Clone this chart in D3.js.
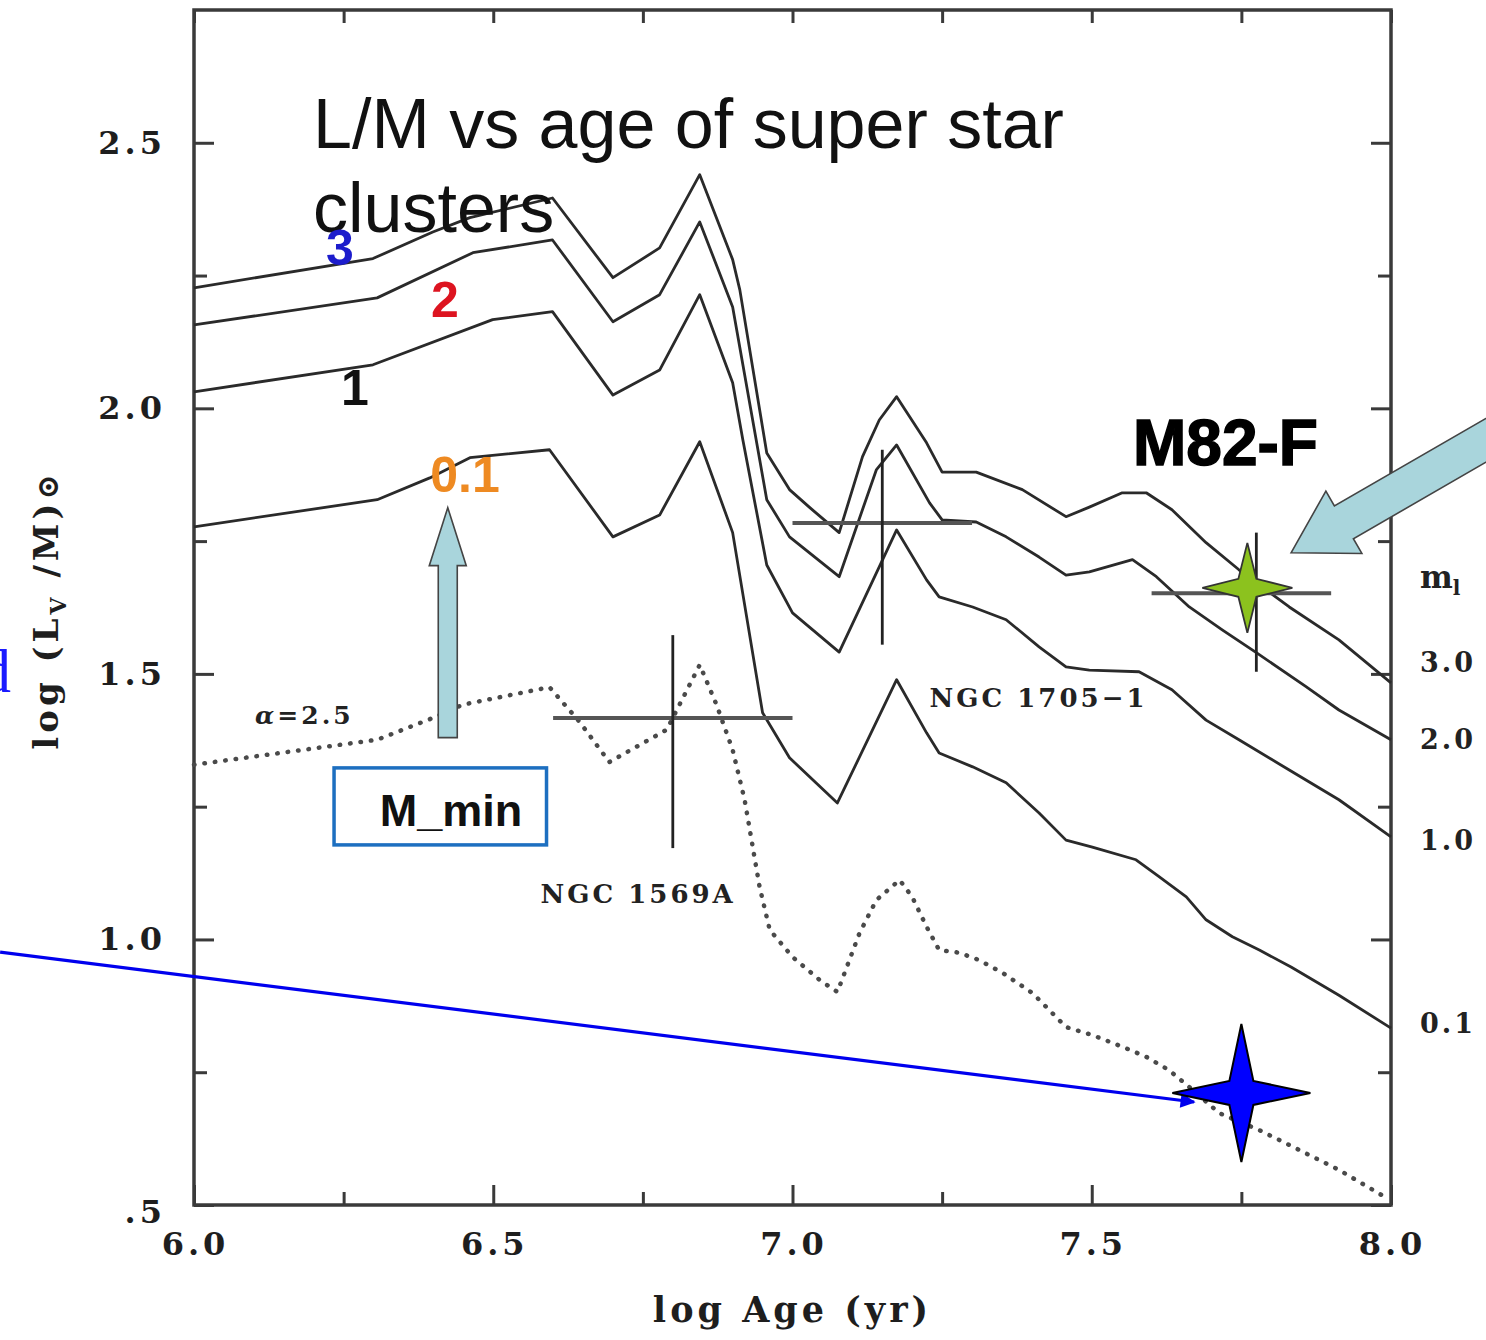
<!DOCTYPE html>
<html>
<head>
<meta charset="utf-8">
<script src="https://cdn.jsdelivr.net/npm/d3@7"></script>
<style>
  body { margin: 0; background: #fff; }
  svg { display: block; }
</style>
</head>
<body>
<svg id="chart" width="1486" height="1340"></svg>
<script>
// ---- axis ticks ----
const ageTicks = [6.0, 6.5, 7.0, 7.5, 8.0];
const ageMinor = [6.25, 6.75, 7.25, 7.75];
const lmTicks = [0.5, 1.0, 1.5, 2.0, 2.5];
const lmMinor = [0.75, 1.25, 1.75, 2.25];

// ---- model tracks: log(L_V/M) vs log age, for lower mass cut-off m_l ----
const age_m3 = [6.000, 6.299, 6.399, 6.461, 6.599, 6.700, 6.778, 6.845, 6.900, 6.912, 6.957, 6.995, 7.028, 7.078, 7.117, 7.145, 7.174, 7.224, 7.250, 7.307, 7.384, 7.457, 7.496, 7.551, 7.591, 7.634, 7.691, 7.746, 7.830, 7.913, 8.000];
const lm_m3  = [2.227, 2.282, 2.332, 2.359, 2.396, 2.246, 2.302, 2.440, 2.280, 2.223, 1.916, 1.847, 1.814, 1.766, 1.909, 1.978, 2.022, 1.935, 1.880, 1.880, 1.847, 1.796, 1.814, 1.841, 1.841, 1.809, 1.747, 1.696, 1.626, 1.564, 1.483];

const age_m2 = [6.000, 6.306, 6.466, 6.599, 6.700, 6.778, 6.845, 6.900, 6.957, 6.995, 7.078, 7.140, 7.174, 7.229, 7.250, 7.307, 7.357, 7.412, 7.457, 7.496, 7.568, 7.608, 7.663, 7.718, 7.775, 7.858, 7.913, 8.000];
const lm_m2  = [2.157, 2.208, 2.293, 2.317, 2.163, 2.214, 2.351, 2.191, 1.828, 1.758, 1.683, 1.884, 1.931, 1.822, 1.790, 1.786, 1.758, 1.720, 1.686, 1.692, 1.715, 1.683, 1.626, 1.583, 1.540, 1.476, 1.432, 1.376];

const age_m1 = [6.000, 6.299, 6.499, 6.599, 6.700, 6.778, 6.845, 6.900, 6.917, 6.957, 7.000, 7.078, 7.174, 7.224, 7.245, 7.301, 7.357, 7.412, 7.457, 7.496, 7.579, 7.634, 7.691, 7.746, 7.830, 7.913, 8.000];
const lm_m1  = [2.031, 2.082, 2.167, 2.182, 2.025, 2.072, 2.214, 2.048, 1.941, 1.705, 1.615, 1.541, 1.771, 1.677, 1.645, 1.626, 1.602, 1.551, 1.513, 1.507, 1.504, 1.470, 1.413, 1.376, 1.319, 1.263, 1.193];

const age_m01 = [6.000, 6.306, 6.394, 6.461, 6.594, 6.700, 6.778, 6.845, 6.900, 6.950, 6.995, 7.075, 7.174, 7.224, 7.245, 7.301, 7.357, 7.412, 7.457, 7.501, 7.574, 7.613, 7.658, 7.691, 7.735, 7.780, 7.833, 7.913, 8.000];
const lm_m01  = [1.777, 1.828, 1.869, 1.907, 1.922, 1.758, 1.799, 1.937, 1.766, 1.427, 1.342, 1.257, 1.489, 1.389, 1.351, 1.325, 1.295, 1.238, 1.187, 1.174, 1.150, 1.118, 1.080, 1.037, 1.005, 0.980, 0.948, 0.895, 0.833];

// steeper IMF (alpha = 2.5), dotted
const age_a25 = [6.000, 6.306, 6.399, 6.449, 6.594, 6.644, 6.694, 6.790, 6.845, 6.873, 6.900, 6.920, 6.945, 6.962, 7.000, 7.045, 7.075, 7.095, 7.112, 7.140, 7.179, 7.200, 7.224, 7.245, 7.279, 7.312, 7.351, 7.401, 7.429, 7.457, 7.501, 7.551, 7.591, 7.629, 7.663, 7.713, 7.780, 7.846, 7.913, 7.990];
const lm_a25  = [1.329, 1.376, 1.417, 1.442, 1.475, 1.410, 1.334, 1.395, 1.517, 1.442, 1.357, 1.263, 1.099, 1.018, 0.967, 0.924, 0.901, 0.961, 1.012, 1.074, 1.112, 1.080, 1.024, 0.980, 0.975, 0.961, 0.937, 0.899, 0.867, 0.835, 0.820, 0.798, 0.779, 0.754, 0.722, 0.673, 0.641, 0.604, 0.566, 0.515];

// ---- observed clusters with error ranges ----
const clusterNames = ["NGC 1569A", "NGC 1705\u22121", "M82-F"];
const clusterAge   = [6.80, 7.15, 7.775];
const clusterAgeLo = [6.60, 7.00, 7.60];
const clusterAgeHi = [7.00, 7.30, 7.90];
const clusterLM    = [1.417, 1.784, 1.652];
const clusterLMLo  = [1.172, 1.555, 1.504];
const clusterLMHi  = [1.573, 1.922, 1.766];

// ---- track labels on the right edge ----
const massLabels = ["3.0", "2.0", "1.0", "0.1"];
const massLabelLM = [1.523, 1.378, 1.187, 0.843];

const svg = d3.select("#chart");
const x = d3.scaleLinear().domain([6, 8]).range([194, 1391]);
const y = d3.scaleLinear().domain([0.5, 2.75]).range([1205, 10]);

const serif = "'DejaVu Serif', serif";
const sans = "'Liberation Sans', Arial, sans-serif";
const ink = "#2a2a2a";
const axisInk = "#3a3a3a";

function styleTicks(g, w) {
  g.select(".domain").remove();
  g.selectAll("line").attr("stroke", axisInk).attr("stroke-width", w);
}
function styleLabels(g) {
  g.selectAll("text")
    .attr("font-family", serif).attr("font-weight", "bold")
    .attr("font-size", 32).attr("letter-spacing", 4)
    .attr("fill", "#1e1e1e");
}

// bottom axis
const gB = svg.append("g").attr("transform", `translate(0,${y(0.5)})`)
  .call(d3.axisBottom(x).tickValues(ageTicks).tickSize(-20).tickPadding(27).tickFormat(d3.format(".1f")));
styleTicks(gB, 3); styleLabels(gB);
gB.selectAll("text").attr("dx", 1);
const gBm = svg.append("g").attr("transform", `translate(0,${y(0.5)})`)
  .call(d3.axisBottom(x).tickValues(ageMinor).tickSize(-13).tickFormat(""));
styleTicks(gBm, 3);

// top axis (ticks only)
const gT = svg.append("g").attr("transform", `translate(0,${y(2.75)})`)
  .call(d3.axisTop(x).tickValues(ageTicks.concat(ageMinor)).tickSize(-13).tickFormat(""));
styleTicks(gT, 3);

// left axis
const gL = svg.append("g").attr("transform", `translate(${x(6)},0)`)
  .call(d3.axisLeft(y).tickValues(lmTicks).tickSize(-20).tickPadding(28)
    .tickFormat(d => d === 0.5 ? ".5" : d3.format(".1f")(d)));
styleTicks(gL, 3); styleLabels(gL);
gL.selectAll("text").filter(d => d === 0.5).attr("dy", "0.55em");
const gLm = svg.append("g").attr("transform", `translate(${x(6)},0)`)
  .call(d3.axisLeft(y).tickValues(lmMinor).tickSize(-13).tickFormat(""));
styleTicks(gLm, 3);

// right axis (ticks only)
const gR = svg.append("g").attr("transform", `translate(${x(8)},0)`)
  .call(d3.axisRight(y).tickValues(lmTicks).tickSize(-20).tickFormat(""));
styleTicks(gR, 3);
const gRm = svg.append("g").attr("transform", `translate(${x(8)},0)`)
  .call(d3.axisRight(y).tickValues(lmMinor).tickSize(-13).tickFormat(""));
styleTicks(gRm, 3);

// frame
svg.append("rect")
  .attr("x", x(6)).attr("y", y(2.75))
  .attr("width", x(8) - x(6)).attr("height", y(0.5) - y(2.75))
  .attr("fill", "none").attr("stroke", axisInk).attr("stroke-width", 3.5);

// axis titles
svg.append("text")
  .attr("x", x(7)).attr("y", 1322).attr("text-anchor", "middle")
  .attr("font-family", serif).attr("font-weight", "bold").attr("font-size", 35)
  .attr("letter-spacing", 4).attr("fill", "#1e1e1e")
  .text("log Age (yr)");

const yTitle = svg.append("text")
  .attr("transform", "translate(58,610) rotate(-90)")
  .attr("text-anchor", "middle")
  .attr("font-family", serif).attr("font-weight", "bold").attr("font-size", 34)
  .attr("letter-spacing", 4).attr("fill", "#1e1e1e");
yTitle.append("tspan").text("log (L");
yTitle.append("tspan").attr("font-size", 22).attr("dy", 8).text("V");
yTitle.append("tspan").attr("dy", -8).text(" /M)");
yTitle.append("tspan").attr("font-size", 30).text("\u2299");

// model tracks
const line = d3.line().x(d => x(d[0])).y(d => y(d[1]));
const solidTracks = [[age_m3, lm_m3], [age_m2, lm_m2], [age_m1, lm_m1], [age_m01, lm_m01]];
svg.append("g").selectAll("path").data(solidTracks).join("path")
  .attr("d", d => line(d3.zip(d[0], d[1])))
  .attr("fill", "none").attr("stroke", ink).attr("stroke-width", 2.8)
  .attr("stroke-linejoin", "round");

svg.append("path")
  .attr("d", line(d3.zip(age_a25, lm_a25)))
  .attr("fill", "none").attr("stroke", "#4a4a4a").attr("stroke-width", 4.5)
  .attr("stroke-linecap", "round").attr("stroke-dasharray", "0.5 10");

// cluster error crosses
const crosses = svg.append("g");
clusterNames.forEach((n, i) => {
  crosses.append("line")
    .attr("x1", x(clusterAgeLo[i])).attr("x2", x(clusterAgeHi[i]))
    .attr("y1", y(clusterLM[i])).attr("y2", y(clusterLM[i]))
    .attr("stroke", "#555").attr("stroke-width", 4);
  crosses.append("line")
    .attr("x1", x(clusterAge[i])).attr("x2", x(clusterAge[i]))
    .attr("y1", y(clusterLMLo[i])).attr("y2", y(clusterLMHi[i]))
    .attr("stroke", "#222").attr("stroke-width", 2.8);
});

// small plot labels
function plotLabel(txt, px, py, size, anchor) {
  return svg.append("text").attr("x", px).attr("y", py)
    .attr("text-anchor", anchor || "start")
    .attr("font-family", serif).attr("font-weight", "bold").attr("font-size", size)
    .attr("letter-spacing", 3).attr("fill", "#222").text(txt);
}
plotLabel(clusterNames[0], x(6.579), y(1.069), 26);
plotLabel(clusterNames[1], x(7.229), y(1.438), 26);
const alphaLbl = plotLabel("", x(6.102), y(1.405), 25);
alphaLbl.append("tspan").attr("font-style", "italic").text("\u03b1");
alphaLbl.append("tspan").text("=2.5");

// right-edge track labels
const ml = svg.append("text").attr("x", 1420).attr("y", y(1.681) + 10)
  .attr("font-family", serif).attr("font-weight", "bold").attr("font-size", 31).attr("fill", "#222");
ml.append("tspan").text("m");
ml.append("tspan").attr("font-size", 20).attr("dy", 7).text("l");
svg.append("g").selectAll("text").data(massLabels).join("text")
  .attr("x", 1420).attr("y", (d, i) => y(massLabelLM[i]) + 10)
  .attr("font-family", serif).attr("font-weight", "bold").attr("font-size", 27)
  .attr("letter-spacing", 3).attr("fill", "#222")
  .text(d => d);

// title
const title = svg.append("text").attr("font-family", sans).attr("font-size", 70).attr("fill", "#111");
title.append("tspan").attr("x", 313).attr("y", 148).text("L/M vs age of super star");
title.append("tspan").attr("x", 313).attr("y", 232).text("clusters");

// coloured track numbers
const numLbl = [["3", "#1c1ccc", 340, 265], ["2", "#dd1420", 445, 317], ["1", "#111", 355, 405], ["0.1", "#ee8a22", 465, 492]];
svg.append("g").selectAll("text").data(numLbl).join("text")
  .attr("x", d => d[2]).attr("y", d => d[3]).attr("text-anchor", "middle")
  .attr("font-family", sans).attr("font-weight", "bold").attr("font-size", 50)
  .attr("fill", d => d[1]).text(d => d[0]);

// M_min arrow and box
const arrowFill = "#a9d5dc";
const upTip = [x(6.424), y(1.813)];
svg.append("polygon")
  .attr("transform", `translate(${upTip[0]},${upTip[1]})`)
  .attr("points", [[0, 0], [-18.5, 58], [-9.5, 58], [-9.5, 230], [9.5, 230], [9.5, 58], [18.5, 58]].join(" "))
  .attr("fill", arrowFill).attr("stroke", "#444").attr("stroke-width", 1.6);
svg.append("rect")
  .attr("x", x(6.234)).attr("y", y(1.323))
  .attr("width", x(6.589) - x(6.234)).attr("height", y(1.178) - y(1.323))
  .attr("fill", "#fff").attr("stroke", "#1d6fc0").attr("stroke-width", 3.5);
svg.append("text").attr("x", 451).attr("y", 826)
  .attr("text-anchor", "middle").attr("font-family", sans).attr("font-weight", "bold")
  .attr("font-size", 45).attr("fill", "#111").text("M_min");

// M82-F label and arrow
svg.append("text").attr("x", 1133).attr("y", 465)
  .attr("font-family", sans).attr("font-weight", "bold").attr("font-size", 64)
  .attr("stroke", "#000").attr("stroke-width", 1.5).attr("fill", "#000").text("M82-F");
const bigTip = [x(7.833), y(1.728)];
svg.append("polygon")
  .attr("transform", `translate(${bigTip[0]},${bigTip[1]}) rotate(-30)`)
  .attr("points", [[0, 0], [61, -36], [61, -19], [330, -19], [330, 19], [61, 19], [61, 36]].join(" "))
  .attr("fill", arrowFill).attr("stroke", "#444").attr("stroke-width", 1.6);

// four-pointed stars
function starPath(R, r) {
  return `M0,${-R}L${r},${-r}L${R},0L${r},${r}L0,${R}L${-r},${r}L${-R},0L${-r},${-r}Z`;
}
svg.append("path")
  .attr("transform", `translate(${x(7.760)},${y(1.662)})`)
  .attr("d", starPath(45, 9))
  .attr("fill", "#8cc21e").attr("stroke", "#333").attr("stroke-width", 1.8);

// pointer line to the blue star
svg.append("defs").append("marker")
  .attr("id", "head").attr("viewBox", "0 0 10 10").attr("refX", 9).attr("refY", 5)
  .attr("markerUnits", "userSpaceOnUse").attr("markerWidth", 17).attr("markerHeight", 15)
  .attr("orient", "auto")
  .append("path").attr("d", "M0,0L10,5L0,10Z").attr("fill", "#0000ee");
svg.append("line")
  .attr("x1", x(5.676)).attr("y1", y(0.976)).attr("x2", x(7.671)).attr("y2", y(0.694))
  .attr("stroke", "#0000ee").attr("stroke-width", 3.2).attr("marker-end", "url(#head)");
svg.append("path")
  .attr("transform", `translate(${x(7.750)},${y(0.711)})`)
  .attr("d", starPath(69, 12))
  .attr("fill", "#0000ff").attr("stroke", "#000").attr("stroke-width", 2);

// blue lettering cut by the left edge
svg.append("text").attr("x", 11).attr("y", 692).attr("text-anchor", "end")
  .attr("font-family", "'Liberation Serif', serif").attr("font-size", 62)
  .attr("fill", "#1a1aff").text("d");
</script>
</body>
</html>
